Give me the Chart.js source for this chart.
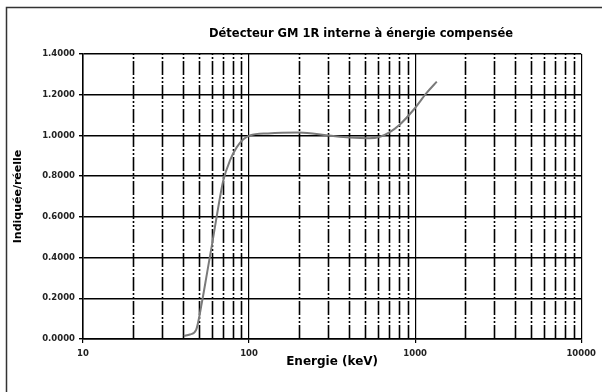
<!DOCTYPE html>
<html>
<head>
<meta charset="utf-8">
<script src="https://cdn.jsdelivr.net/npm/chart.js@4.4.1/dist/chart.umd.min.js"></script>
<style>
  body { margin: 0; background: #fff; }
</style>
</head>
<body>
<canvas id="gmChart" width="602" height="392"></canvas>
<script>
// values
const energies = [40.5, 44, 48, 52, 56, 60, 65, 70, 77, 84, 92, 101, 130, 200, 300, 400, 530, 620, 700, 800, 976, 1176, 1350];
const ratios   = [0.015, 0.022, 0.045, 0.18, 0.33, 0.47, 0.64, 0.78, 0.88, 0.94, 0.98, 1.0, 1.01, 1.014, 1.0, 0.99, 0.986, 0.995, 1.015, 1.05, 1.125, 1.21, 1.264];
const xRange = [10, 10000];
const yRange = [0, 1.4];
const yStep = 0.2;
const xDecades = [10, 100, 1000];
const xSteps = [1, 2, 3, 4, 5, 6, 7, 8, 9];

const chartTitle = 'Détecteur GM 1R interne à énergie compensée';
const xTitle = 'Energie (keV)';
const yTitle = 'Indiquée/réelle';

const FONT = "'DejaVu Sans', sans-serif";

function isDecade(v) {
    const l = Math.log10(v);
    return Math.abs(l - Math.round(l)) < 1e-9;
}

// 10, 20 ... 90, 100, 200 ... 10000
const xTickValues = [];
xDecades.forEach(d => xSteps.forEach(s => xTickValues.push(d * s)));
xTickValues.push(xRange[1]);

// dash-dot vertical lines for the minor log ticks
const minorGrid = {
    id: 'minorGrid',
    beforeDatasetsDraw(chart) {
        const {ctx, chartArea, scales: {x}} = chart;
        ctx.save();
        ctx.strokeStyle = '#000';
        ctx.lineWidth = 1.6;
        ctx.setLineDash([14, 2, 2, 2, 2, 2]);
        x.ticks.forEach(t => {
            if (isDecade(t.value)) return;
            const px = Math.round(x.getPixelForValue(t.value)) + 0.5;
            ctx.beginPath();
            ctx.moveTo(px, chartArea.bottom);
            ctx.lineTo(px, chartArea.top);
            ctx.stroke();
        });
        ctx.restore();
    }
};

// outer frame and title
const frame = {
    id: 'frame',
    beforeDraw(chart) {
        const ctx = chart.ctx;
        ctx.save();
        ctx.fillStyle = '#fff';
        ctx.fillRect(0, 0, chart.width, chart.height);
        ctx.strokeStyle = '#333';
        ctx.lineWidth = 1.5;
        ctx.beginPath();
        ctx.moveTo(602, 7.5);
        ctx.lineTo(6.5, 7.5);
        ctx.lineTo(6.5, 392);
        ctx.stroke();
        ctx.restore();
    },
    afterDraw(chart) {
        const ctx = chart.ctx;
        ctx.save();
        ctx.fillStyle = '#000';
        ctx.font = 'bold 11.5px ' + FONT;
        ctx.textAlign = 'center';
        ctx.textBaseline = 'middle';
        ctx.fillText(chartTitle, 361, 34);
        ctx.restore();
    }
};

const ctx = document.getElementById('gmChart').getContext('2d');

new Chart(ctx, {
    type: 'line',
    data: {
        datasets: [{
            data: energies.map((e, i) => ({x: e, y: ratios[i]})),
            borderColor: '#7a7a7a',
            borderWidth: 2,
            pointRadius: 0,
            fill: false,
            cubicInterpolationMode: 'monotone'
        }]
    },
    options: {
        responsive: false,
        animation: false,
        layout: {padding: {top: 54, right: 20, left: 0, bottom: 0}},
        plugins: {
            legend: {display: false},
            tooltip: {enabled: false},
            title: {display: false}
        },
        scales: {
            x: {
                type: 'logarithmic',
                min: xRange[0],
                max: xRange[1],
                afterBuildTicks: s => { s.ticks = xTickValues.map(v => ({value: v, major: isDecade(v)})); },
                afterFit: s => { s.height = 53; },
                border: {display: true, color: '#000', width: 1.5},
                grid: {
                    color: c => (c.tick && isDecade(c.tick.value)) ? '#000' : 'rgba(0,0,0,0)',
                    tickColor: c => (c.tick && isDecade(c.tick.value)) ? '#000' : 'rgba(0,0,0,0)',
                    lineWidth: 1.2,
                    tickLength: 4
                },
                ticks: {
                    autoSkip: false,
                    maxRotation: 0,
                    padding: 6,
                    color: '#222',
                    font: {family: FONT, size: 8.5, weight: 'bold'},
                    callback: v => isDecade(v) ? String(v) : ''
                },
                title: {
                    display: true,
                    text: xTitle,
                    color: '#000',
                    font: {family: FONT, size: 12, weight: 'bold'},
                    padding: {top: 0, bottom: 23}
                }
            },
            y: {
                min: yRange[0],
                max: yRange[1],
                afterFit: s => { s.width = 83; },
                border: {display: true, color: '#000', width: 1.5},
                grid: {
                    color: '#000',
                    lineWidth: 1.4,
                    tickLength: 4
                },
                ticks: {
                    stepSize: yStep,
                    padding: 4,
                    color: '#222',
                    font: {family: FONT, size: 8.5, weight: 'bold'},
                    callback: v => Number(v).toFixed(4)
                },
                title: {
                    display: true,
                    text: yTitle,
                    color: '#000',
                    font: {family: FONT, size: 11, weight: 'bold'},
                    padding: {top: 12, bottom: 0}
                }
            }
        }
    },
    plugins: [frame, minorGrid]
});
</script>
</body>
</html>
